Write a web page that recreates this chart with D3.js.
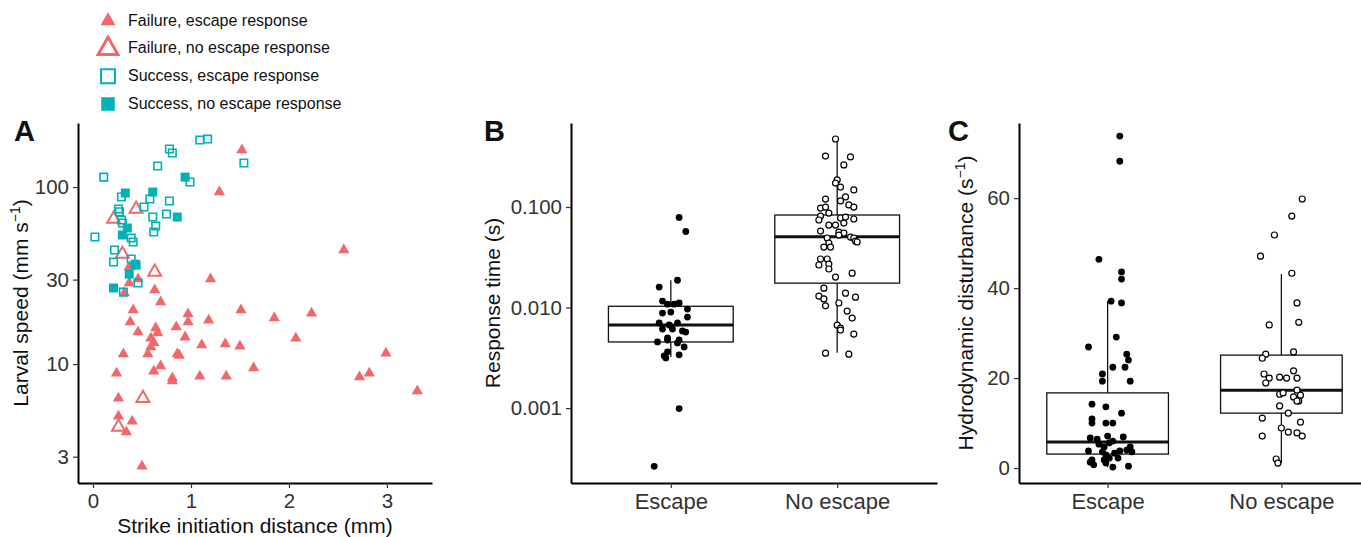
<!DOCTYPE html>
<html>
<head>
<meta charset="utf-8">
<script src="https://cdn.jsdelivr.net/npm/d3@7"></script>
<style>
  body { margin: 0; background: #fff; }
  svg { display: block; font-family: "Liberation Sans", Arial, Helvetica, sans-serif; }
</style>
</head>
<body>
<svg id="chart" width="1361" height="537"></svg>
<script>
// ---- panel A : [strike distance (mm), larval speed (mm/s)]
var failEscape = [[1.52,161.8],[1.29,93.7],[2.56,44.1],[1.20,30.2],[0.37,28.7],[0.46,30.2],[0.32,25.2],[0.63,26.2],[0.69,22.4],[0.37,35.3],
  [0.41,20.2],[0.97,19.2],[0.38,17.3],[0.97,17.3],[1.18,17.7],[0.85,16.2],[0.46,15.2],[0.64,16.0],[0.66,15.0],[0.94,14.2],
  [0.59,14.0],[0.62,13.2],[1.11,12.8],[1.35,13.0],[0.59,12.5],[0.31,11.4],[0.56,11.4],[0.86,11.4],[0.88,11.2],[0.69,9.75],
  [0.62,9.12],[0.24,8.89],[1.09,8.55],[1.36,8.55],[0.81,8.34],[0.81,8.02],[0.26,6.42],[0.26,5.08],[0.40,4.76],[0.34,4.13],
  [0.50,2.65],[1.51,20.2],[1.85,18.2],[2.23,19.4],[1.50,12.6],[2.07,14.0],[1.64,9.49],[2.99,11.5],[2.72,8.45],[2.82,8.89],[3.31,7.04]];
var failNoEscape = [[0.44,75.1],[0.21,65.9],[0.30,41.8],[0.63,33.1],[0.51,6.42],[0.26,4.41]];
var succEscape = [[1.09,184.5],[1.17,186.6],[0.78,164],[0.81,155.6],[0.66,131.5],[1.54,136.7],[0.11,113.8],[0.99,106.7],
  [0.29,87.8],[0.58,85.6],[0.78,83.4],[0.52,77.1],[0.26,75.1],[0.27,72.5],[0.75,70.4],[0.61,67.7],[0.29,65.1],[0.30,62.6],
  [0.64,60.3],[0.62,55.7],[0.02,52.2],[0.39,51.5],[0.41,48.9],[0.22,44.1],[0.21,37.7],[0.39,39.2],[0.46,28.7],[0.31,25.5]];
var succNoEscape = [[0.33,92.5],[0.61,93.7],[0.94,113.8],[0.86,67.7],[0.35,58.7],[0.30,53.6],[0.43,36.7],[0.44,36.2],[0.37,32.2],[0.21,26.9]];

var legendLabels = ['Failure, escape response','Failure, no escape response','Success, escape response','Success, no escape response'];
var speedTicks = [3, 10, 30, 100];
var distTicks = [0, 1, 2, 3];

// ---- panel B / C groups
var groups = ['Escape', 'No escape'];

// response time (s): [jitter, value]
var rtEscape = [[0.05,0.0787],[0.09,0.0571],[0.04,0.0187],[-0.07,0.0160],[-0.05,0.0116],[-0.02,0.0108],[0.02,0.0108],[0.05,0.0111],
  [0.10,0.00966],[-0.05,0.00882],[0.00,0.00902],[0.10,0.00805],[-0.07,0.00703],[-0.01,0.00671],[0.04,0.00703],[-0.05,0.00612],
  [0.01,0.00612],[0.07,0.00585],[0.09,0.00571],[-0.02,0.00499],[-0.08,0.00455],[-0.02,0.00476],[0.05,0.00476],[0.04,0.00445],
  [0.08,0.00406],[-0.02,0.00363],[-0.03,0.00316],[0.05,0.00339],[-0.04,0.00331],[0.05,0.00099],[-0.10,0.000264]];
var rtNoEscape = [[-0.01,0.475],[-0.07,0.321],[0.08,0.315],[0.04,0.262],[0,0.186],[-0.01,0.173],[0.02,0.158],[0.10,0.148],
  [0.05,0.126],[-0.07,0.120],[0.02,0.115],[0.07,0.105],[-0.10,0.0977],[-0.07,0.100],[0.10,0.100],[-0.05,0.0871],[-0.10,0.0813],
  [0.02,0.0778],[0.05,0.0795],[0.10,0.0760],[-0.11,0.0743],[0.04,0.0693],[-0.01,0.0662],[-0.05,0.0662],[-0.10,0.0577],
  [0.01,0.0564],[0.04,0.0551],[0.01,0.0526],[-0.06,0.0492],[0.08,0.0502],[0.10,0.0492],[0.11,0.0459],[0.12,0.0449],
  [-0.05,0.0438],[-0.08,0.0400],[-0.04,0.0400],[-0.10,0.0304],[-0.06,0.0304],[-0.11,0.0265],[-0.05,0.0271],[-0.05,0.0242],
  [0.09,0.0220],[-0.01,0.0201],[-0.08,0.0156],[-0.11,0.0130],[0.05,0.0139],[0.11,0.0127],[-0.08,0.0122],[-0.07,0.0104],
  [0.01,0.0111],[0.06,0.00923],[0.09,0.00787],[0,0.00670],[0.02,0.00625],[0.02,0.00597],[0.10,0.00545],[-0.07,0.00352],[0.07,0.00344]];
var rtLower = [0.00323, 0.00355];
var rtQ1 = [0.00455, 0.0175];
var rtMedian = [0.00671, 0.0505];
var rtQ3 = [0.0103, 0.0833];
var rtUpper = [0.0187, 0.482];
var rtTicks = [0.001, 0.01, 0.1];

// hydrodynamic disturbance (1/s): [jitter, value]
var hdEscape = [[0.07,73.8],[0.07,68.2],[-0.05,46.4],[0.08,43.6],[0.08,42.0],[0.02,37.1],[0.08,36.7],[0.05,29.1],[-0.11,26.9],
  [0.11,25.3],[0.12,24.0],[0.03,22.4],[0.10,22.4],[-0.03,20.9],[-0.03,19.3],[0.13,19.3],[-0.09,14.2],[-0.01,13.6],[0.08,12.2],
  [-0.09,10.9],[-0.09,10.0],[-0.01,10.0],[0.03,10.0],[0,7.1],[-0.10,6.7],[-0.06,6.4],[0.09,6.9],[0.03,6.0],[-0.05,5.3],
  [0.01,5.6],[-0.02,4.7],[0.13,4.7],[-0.11,3.8],[-0.03,3.6],[0.07,3.8],[0.11,4.0],[0.14,3.6],[-0.01,2.9],[0.04,3.3],
  [-0.09,1.8],[-0.02,1.8],[0.01,2.2],[0.06,2.2],[-0.10,1.3],[-0.08,0.7],[-0.01,1.1],[0.03,0.2],[0.12,0.4]];
var hdNoEscape = [[0.12,59.8],[0.06,56.0],[-0.04,51.8],[-0.12,47.1],[0.06,43.3],[0.09,36.7],[-0.07,31.8],[0.10,32.4],
  [-0.09,25.3],[-0.11,24.4],[0.07,25.8],[-0.10,20.9],[-0.07,20.0],[-0.09,18.9],[-0.01,20.2],[0.03,20.0],[0.07,21.6],
  [0.09,20.0],[0.09,17.3],[-0.01,16.4],[0.01,16.7],[0.11,16.2],[0.07,15.8],[0.10,14.9],[0.09,14.9],[-0.01,13.8],[0.04,12.2],
  [-0.11,11.1],[0.11,10.2],[0,8.9],[0.04,8.0],[0.09,7.8],[0.12,7.1],[-0.11,7.1],[-0.03,2.0],[-0.02,1.1]];
var hdLower = [0.2, 1.1];
var hdQ1 = [3.1, 12.2];
var hdMedian = [5.8, 17.3];
var hdQ3 = [16.7, 25.1];
var hdUpper = [37.1, 43.1];
var hdTicks = [0, 20, 40, 60];

var red = '#F2686A', teal = '#00B1B5';
var plotTop = 123, plotBottom = 483;
var tickFont = '20.5px', titleFont = '21px';
var svg = d3.select('#chart');

function styleAxis(g, size) {
  g.select('.domain').attr('stroke', '#000').attr('stroke-width', 2);
  g.selectAll('.tick line').attr('stroke', '#333').attr('stroke-width', 1.2);
  g.selectAll('.tick text').attr('fill', '#333').style('font-size', size || tickFont);
}

function panelLabel(txt, x) {
  svg.append('text').attr('x', x).attr('y', 141).text(txt)
    .style('font-size', '29px').style('font-weight', 'bold').attr('fill', '#111');
}

function yTitle(x, cy, size, parts) {
  var t = svg.append('text')
    .attr('transform', 'translate(' + x + ',' + cy + ') rotate(-90)')
    .attr('text-anchor', 'middle').style('font-size', size).attr('fill', '#111');
  parts.forEach(function(p) {
    var s = t.append('tspan').text(p.t);
    if (p.sup) s.attr('baseline-shift', 'super').style('font-size', '14px');
  });
}

// ================= A =================
var xA = d3.scaleLinear().domain([-0.153, 3.46]).range([78, 432]);
var yA = d3.scaleLog().domain([2.13, 230]).range([plotBottom, plotTop]);

function placeA(d) { return 'translate(' + xA(d[0]) + ',' + yA(d[1]) + ')'; }

var ptsA = svg.append('g');
ptsA.selectAll('.fe').data(failEscape).enter().append('path')
  .attr('d', d3.symbol().type(d3.symbolTriangle).size(55)())
  .attr('transform', placeA)
  .attr('fill', red);
ptsA.selectAll('.fn').data(failNoEscape).enter().append('path')
  .attr('d', d3.symbol().type(d3.symbolTriangle).size(72)())
  .attr('transform', placeA)
  .attr('fill', 'none').attr('stroke', red).attr('stroke-width', 2);
ptsA.selectAll('.se').data(succEscape).enter().append('path')
  .attr('d', d3.symbol().type(d3.symbolSquare).size(56)())
  .attr('transform', placeA)
  .attr('fill', 'none').attr('stroke', teal).attr('stroke-width', 1.6);
ptsA.selectAll('.sn').data(succNoEscape).enter().append('path')
  .attr('d', d3.symbol().type(d3.symbolSquare).size(81)())
  .attr('transform', placeA)
  .attr('fill', teal);

svg.append('g').attr('transform', 'translate(78,0)')
  .call(d3.axisLeft(yA).tickValues(speedTicks).tickFormat(d3.format('d')).tickSize(5).tickPadding(4).tickSizeOuter(0))
  .call(styleAxis);
svg.append('g').attr('transform', 'translate(0,' + plotBottom + ')')
  .call(d3.axisBottom(xA).tickValues(distTicks).tickFormat(d3.format('d')).tickSize(5).tickPadding(5).tickSizeOuter(0))
  .call(styleAxis);

svg.append('text').attr('x', 255).attr('y', 533).attr('text-anchor', 'middle')
  .style('font-size', titleFont).attr('fill', '#111').text('Strike initiation distance (mm)');
yTitle(28, 303, titleFont, [{t: 'Larval speed (mm s'}, {t: '\u22121', sup: true}, {t: ')'}]);
panelLabel('A', 14);

// legend
var legY = d3.scalePoint().domain(legendLabels).range([20, 103]);
var legSyms = [
  {type: d3.symbolTriangle, size: 97, fill: red, stroke: 'none', sw: 0},
  {type: d3.symbolTriangle, size: 170, fill: 'none', stroke: red, sw: 3},
  {type: d3.symbolSquare, size: 196, fill: 'none', stroke: teal, sw: 2},
  {type: d3.symbolSquare, size: 182, fill: teal, stroke: 'none', sw: 0}
];
var leg = svg.append('g');
legendLabels.forEach(function(lab, i) {
  var s = legSyms[i];
  leg.append('path').attr('d', d3.symbol().type(s.type).size(s.size)())
    .attr('transform', 'translate(108,' + (legY(lab) + 1) + ')')
    .attr('fill', s.fill).attr('stroke', s.stroke).attr('stroke-width', s.sw);
  leg.append('text').attr('x', 128).attr('y', legY(lab)).attr('dy', '0.36em')
    .style('font-size', '16px').attr('fill', '#111').text(lab);
});

// ================= box panels =================
function boxPanel(opt) {
  var x = d3.scalePoint().domain(groups).range([opt.left, opt.right]).padding(opt.pad);
  var y = opt.y;
  var w = x.step() * opt.frac;
  var g = svg.append('g');
  groups.forEach(function(grp, i) {
    var cx = x(grp);
    g.append('line').attr('x1', cx).attr('x2', cx).attr('y1', y(opt.upper[i])).attr('y2', y(opt.q3[i]))
      .attr('stroke', '#111').attr('stroke-width', 1.3);
    g.append('line').attr('x1', cx).attr('x2', cx).attr('y1', y(opt.q1[i])).attr('y2', y(opt.lower[i]))
      .attr('stroke', '#111').attr('stroke-width', 1.3);
    g.append('rect').attr('x', cx - w / 2).attr('width', w)
      .attr('y', y(opt.q3[i])).attr('height', y(opt.q1[i]) - y(opt.q3[i]))
      .attr('fill', '#fff').attr('stroke', '#111').attr('stroke-width', 1.3);
    g.append('line').attr('x1', cx - w / 2).attr('x2', cx + w / 2).attr('y1', y(opt.median[i])).attr('y2', y(opt.median[i]))
      .attr('stroke', '#111').attr('stroke-width', 3);
  });
  g.selectAll('.pe').data(opt.escape).enter().append('circle')
    .attr('cx', function(d) { return x('Escape') + d[0] * x.step(); })
    .attr('cy', function(d) { return y(d[1]); })
    .attr('r', 3.4).attr('fill', '#000');
  g.selectAll('.pn').data(opt.noEscape).enter().append('circle')
    .attr('cx', function(d) { return x('No escape') + d[0] * x.step(); })
    .attr('cy', function(d) { return y(d[1]); })
    .attr('r', 3).attr('fill', '#fff').attr('stroke', '#000').attr('stroke-width', 1.2);

  svg.append('g').attr('transform', 'translate(' + opt.left + ',0)')
    .call(d3.axisLeft(y).tickValues(opt.ticks).tickFormat(opt.fmt).tickSize(5).tickPadding(4).tickSizeOuter(0))
    .call(styleAxis);
  svg.append('g').attr('transform', 'translate(0,' + plotBottom + ')')
    .call(d3.axisBottom(x).tickSize(5).tickPadding(5).tickSizeOuter(0))
    .call(styleAxis, '22px');
}

// ================= B =================
var yB = d3.scaleLog().domain([0.00018, 0.685]).range([plotBottom, plotTop]);
boxPanel({left: 571, right: 937, pad: 0.6, frac: 0.75, y: yB, ticks: rtTicks, fmt: d3.format('.3f'),
  escape: rtEscape, noEscape: rtNoEscape, lower: rtLower, q1: rtQ1, median: rtMedian, q3: rtQ3, upper: rtUpper});
yTitle(500, 303, titleFont, [{t: 'Response time (s)'}]);
panelLabel('B', 484);

// ================= C =================
var yC = d3.scaleLinear().domain([-3.33, 76.7]).range([plotBottom, plotTop]);
boxPanel({left: 1019, right: 1370, pad: 0.51, frac: 0.7, y: yC, ticks: hdTicks, fmt: d3.format('d'),
  escape: hdEscape, noEscape: hdNoEscape, lower: hdLower, q1: hdQ1, median: hdMedian, q3: hdQ3, upper: hdUpper});
yTitle(973, 303, titleFont, [{t: 'Hydrodynamic disturbance (s'}, {t: '\u22121', sup: true}, {t: ')'}]);
panelLabel('C', 948);
</script>
</body>
</html>
